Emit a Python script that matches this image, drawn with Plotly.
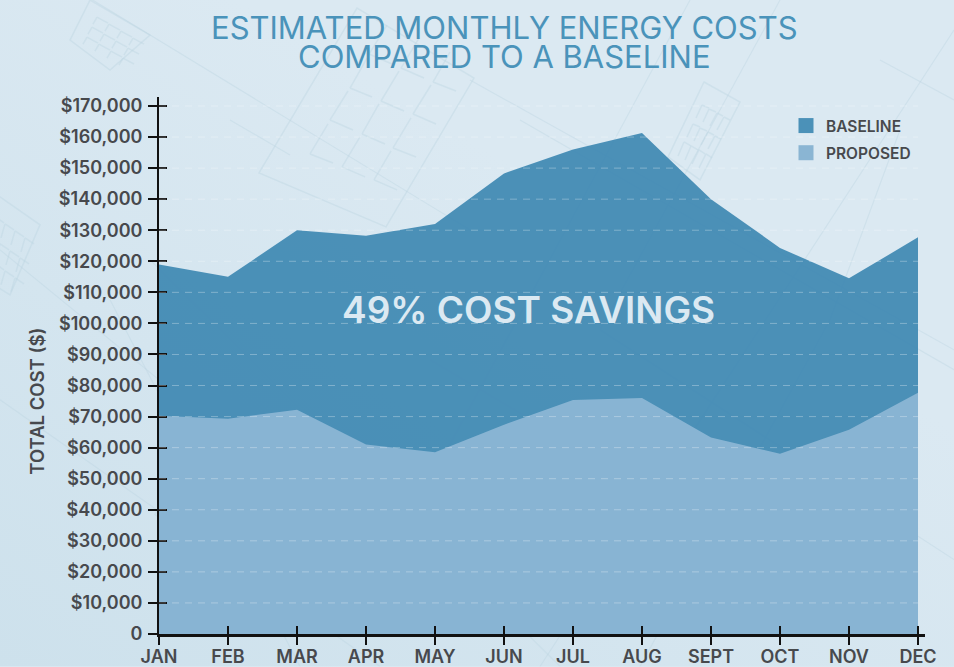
import base64
import plotly.graph_objects as go

months = ["JAN","FEB","MAR","APR","MAY","JUN","JUL","AUG","SEPT","OCT","NOV","DEC"]
baseline = [119000,115000,130000,128200,132000,148300,156000,161300,140000,124300,114500,127700]
proposed = [70300,69300,72200,61000,58500,67400,75300,76000,63300,58000,65800,77700]
y_ticks = list(range(0,180000,10000))
y_labels = ["0"]+[f"${v:,}" for v in y_ticks[1:]]
title_lines = ["ESTIMATED MONTHLY ENERGY COSTS","COMPARED TO A BASELINE"]

TXT="#47494d"; FONT="Inter"; TITLE="#4a93ba"; AX="#111111"
W,H=954,667
L,R,T,B=159,29,97,32.5
PW,PH=W-L-R,H-T-B

# faint blueprint backdrop (decoration only, no data)
tiles=[[(259,173),(357,8),(474,78),(386,227)],[(704,82),(740,102),(700,180),(668,157)],
       [(480,473),(515,493),(460,593),(425,572)],[(200,432),(238,455),(190,540),(155,515)],
       [(-10,190),(40,225),(10,295),(-30,270)],[(90,0),(150,35),(110,70),(70,40)]]
def tile_svg(c):
    (a,b,d,e)=c
    s=f'<polygon points="{a[0]},{a[1]} {b[0]},{b[1]} {d[0]},{d[1]} {e[0]},{e[1]}" fill="none"/>'
    for i in range(1,4):
        for j in range(1,5):
            u,v=i/4,j/5
            px=a[0]+(b[0]-a[0])*v+(e[0]-a[0])*u; py=a[1]+(b[1]-a[1])*v+(e[1]-a[1])*u
            s+=f'<path d="M{px:.0f},{py:.0f} L{px+(b[0]-a[0])*.18:.0f},{py+(b[1]-a[1])*.18:.0f} M{px:.0f},{py:.0f} L{px+(e[0]-a[0])*.18:.0f},{py+(e[1]-a[1])*.18:.0f}" fill="none"/>'
    return s
long_lines=[(60,-20,470,230),(470,80,954,350),(150,260,560,667),(0,400,380,667),(690,0,420,500),(954,30,540,667),
            (780,0,600,330),(880,60,954,100),(520,120,954,370),(300,667,110,300),(0,250,220,430),(600,330,954,560),
            (640,667,830,320),(830,320,900,130),(230,120,290,155),(430,360,700,520)]
svg=(f'<svg xmlns="http://www.w3.org/2000/svg" width="{W}" height="{H}" viewBox="0 0 {W} {H}">'
     '<defs><linearGradient id="g" x1="0" y1="1" x2="0.6" y2="0.3"><stop offset="0" stop-color="#cde1ec"/><stop offset="1" stop-color="#dbe9f2"/></linearGradient></defs>'
     f'<rect width="{W}" height="{H}" fill="url(#g)"/><g stroke="#bcd5e2" stroke-opacity="0.4" stroke-width="1.5">'
     +"".join(tile_svg(c) for c in tiles)
     +"".join(f'<line x1="{a}" y1="{b}" x2="{c}" y2="{d}" stroke-width="1.1"/>' for a,b,c,d in long_lines)
     +'</g></svg>')
bg="data:image/svg+xml;base64,"+base64.b64encode(svg.encode()).decode()

x_idx=list(range(len(months)))
xr=[0,PW/((918-159)/11)]; yr=[0,PH/((634.5-106)/170000)]
fig=go.Figure()
fig.add_trace(go.Scatter(x=x_idx,y=baseline,mode="none",fill="tozeroy",fillcolor="rgba(63,137,179,0.93)",showlegend=False,hoverinfo="skip"))
fig.add_trace(go.Scatter(x=x_idx,y=proposed,mode="none",fill="tozeroy",fillcolor="rgba(141,183,213,0.93)",showlegend=False,hoverinfo="skip"))
fig.add_trace(go.Scatter(x=[None],y=[None],mode="markers",name="BASELINE",legendgroup="a",marker=dict(symbol="square",size=15,color="#4b91b8",line=dict(width=0))))
fig.add_trace(go.Scatter(x=[None],y=[None],mode="markers",name="PROPOSED",legendgroup="b",marker=dict(symbol="square",size=15,color="#8ab5d3",line=dict(width=0))))
fig.add_trace(go.Scatter(x=[None],y=[None],xaxis="x2",yaxis="y2",showlegend=False))
for v in y_ticks[1:]:
    fig.add_shape(type="line",x0=0,x1=x_idx[-1],y0=v,y1=v,layer="above",line=dict(color="rgba(255,255,255,0.3)",width=1,dash="7px 6px"))
fig.update_layout(
    width=W,height=H,autosize=False,
    paper_bgcolor="#dbe9f2",plot_bgcolor="rgba(0,0,0,0)",
    margin=dict(l=L,r=R,t=T,b=B,autoexpand=False),
    images=[dict(source=bg,xref="paper",yref="paper",x=-L/PW,y=1+T/PH,sizex=W/PW,sizey=H/PH,xanchor="left",yanchor="top",sizing="stretch",layer="below")],
    xaxis=dict(range=xr,tickmode="array",tickvals=x_idx,ticktext=months,ticks="outside",ticklen=8,tickwidth=1.5,tickcolor=AX,automargin=False,ticklabelstandoff=-3,
               showline=True,linecolor=AX,linewidth=2.5,showgrid=False,zeroline=False,
               tickfont=dict(family=FONT,size=18,color=TXT,weight=600)),
    yaxis=dict(range=yr,tickmode="array",tickvals=y_ticks,ticktext=y_labels,ticks="outside",ticklen=9,tickwidth=2,tickcolor=AX,automargin=False,ticklabelstandoff=2,
               showline=True,linecolor=AX,linewidth=2,showgrid=False,zeroline=False,
               tickfont=dict(family=FONT,size=18,color=TXT,weight=600)),
    xaxis2=dict(range=xr,overlaying="x",tickmode="array",tickvals=x_idx,ticktext=[""]*12,ticks="inside",ticklen=8,tickwidth=1.5,tickcolor=AX,showgrid=False,zeroline=False,showline=False,automargin=False),
    yaxis2=dict(range=yr,overlaying="y",tickmode="array",tickvals=y_ticks,ticktext=[""]*18,ticks="inside",ticklen=8,tickwidth=2,tickcolor=AX,showgrid=False,zeroline=False,showline=False,automargin=False),
    legend=dict(x=(786-L)/PW,y=1-(109-T)/PH,xanchor="left",yanchor="top",bgcolor="rgba(0,0,0,0)",itemwidth=30,tracegroupgap=4,traceorder="grouped",
                font=dict(family=FONT,size=15.5,color=TXT,weight=600)),
    annotations=[
        dict(text=title_lines[0],x=(504.5-L)/PW,y=1-(27-T)/PH,xref="paper",yref="paper",showarrow=False,yanchor="middle",font=dict(family=FONT,size=31,color=TITLE,weight=400)),
        dict(text=title_lines[1],x=(504.5-L)/PW,y=1-(56-T)/PH,xref="paper",yref="paper",showarrow=False,yanchor="middle",font=dict(family=FONT,size=31,color=TITLE,weight=400)),
        dict(text="49% COST SAVINGS",x=(528.5-L)/PW,y=1-(310-T)/PH,xref="paper",yref="paper",showarrow=False,yanchor="middle",font=dict(family=FONT,size=37,color="#dbe9f2",weight=600)),
        dict(text="TOTAL COST ($)",x=(37-L)/PW,y=1-(402-T)/PH,xref="paper",yref="paper",showarrow=False,textangle=-90,xanchor="center",yanchor="middle",font=dict(family=FONT,size=18.5,color=TXT,weight=600)),
    ],
)
fig.write_html("out.html",config=dict(displayModeBar=False),post_script="document.body.style.margin='0';document.body.style.overflow='hidden';")
